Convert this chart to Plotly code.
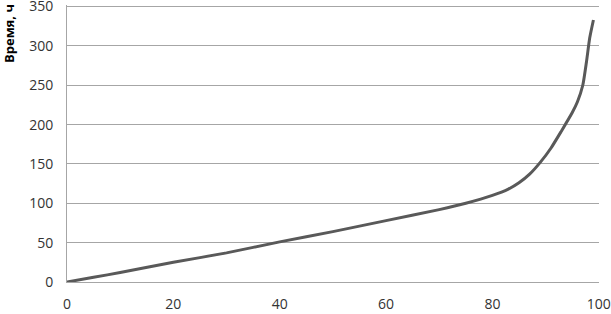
import plotly.graph_objects as go

x_vals = [0, 5, 10, 20, 30, 40, 50, 60, 70, 75, 80, 83, 85, 87, 89, 91, 93, 95, 96, 97, 97.7, 98.3, 99]
y_vals = [0, 6, 12, 25, 37, 51, 64, 78, 92, 100, 110, 118, 126, 137, 152, 170, 192, 215, 229, 250, 280, 310, 333]

x_ticks = [0, 20, 40, 60, 80, 100]
y_ticks = [0, 50, 100, 150, 200, 250, 300, 350]
y_title = "Время, ч"

fig = go.Figure()
fig.add_trace(go.Scatter(x=x_vals, y=y_vals, mode="lines",
                         line=dict(color="#595959", width=3, shape="spline", smoothing=0.6),
                         showlegend=False, cliponaxis=False))

tick_font = dict(family="Open Sans, Liberation Sans, sans-serif", size=14, color="#333333")
fig.update_layout(
    width=611, height=314,
    margin=dict(l=67, r=12, t=5, b=32),
    paper_bgcolor="white", plot_bgcolor="white",
    xaxis=dict(range=[0, 100.05], tickvals=x_ticks, showgrid=False, zeroline=False,
               showline=True, linecolor="#a6a6a6", linewidth=1, automargin=False,
               ticks="outside", ticklen=9, tickcolor="rgba(0,0,0,0)",
               ticklabeloverflow="allow", tickfont=tick_font),
    yaxis=dict(range=[0, 352], tickvals=y_ticks, showgrid=True, gridcolor="#a6a6a6", gridwidth=1,
               zeroline=False, showline=True, linecolor="#a6a6a6", linewidth=1, automargin=False,
               ticks="outside", ticklen=10, tickcolor="rgba(0,0,0,0)",
               ticklabeloverflow="allow", tickfont=tick_font),
    annotations=[dict(text="<b>" + y_title + "</b>", xref="paper", yref="paper",
                      x=-0.108, y=1.011, xanchor="center", yanchor="top", textangle=-90,
                      showarrow=False,
                      font=dict(family="Open Sans, Liberation Sans, sans-serif", size=13, color="#000000"))],
)

fig.write_html("out.html", config={"displayModeBar": False},
               post_script="document.body.style.margin='0';document.body.style.overflow='hidden';")
